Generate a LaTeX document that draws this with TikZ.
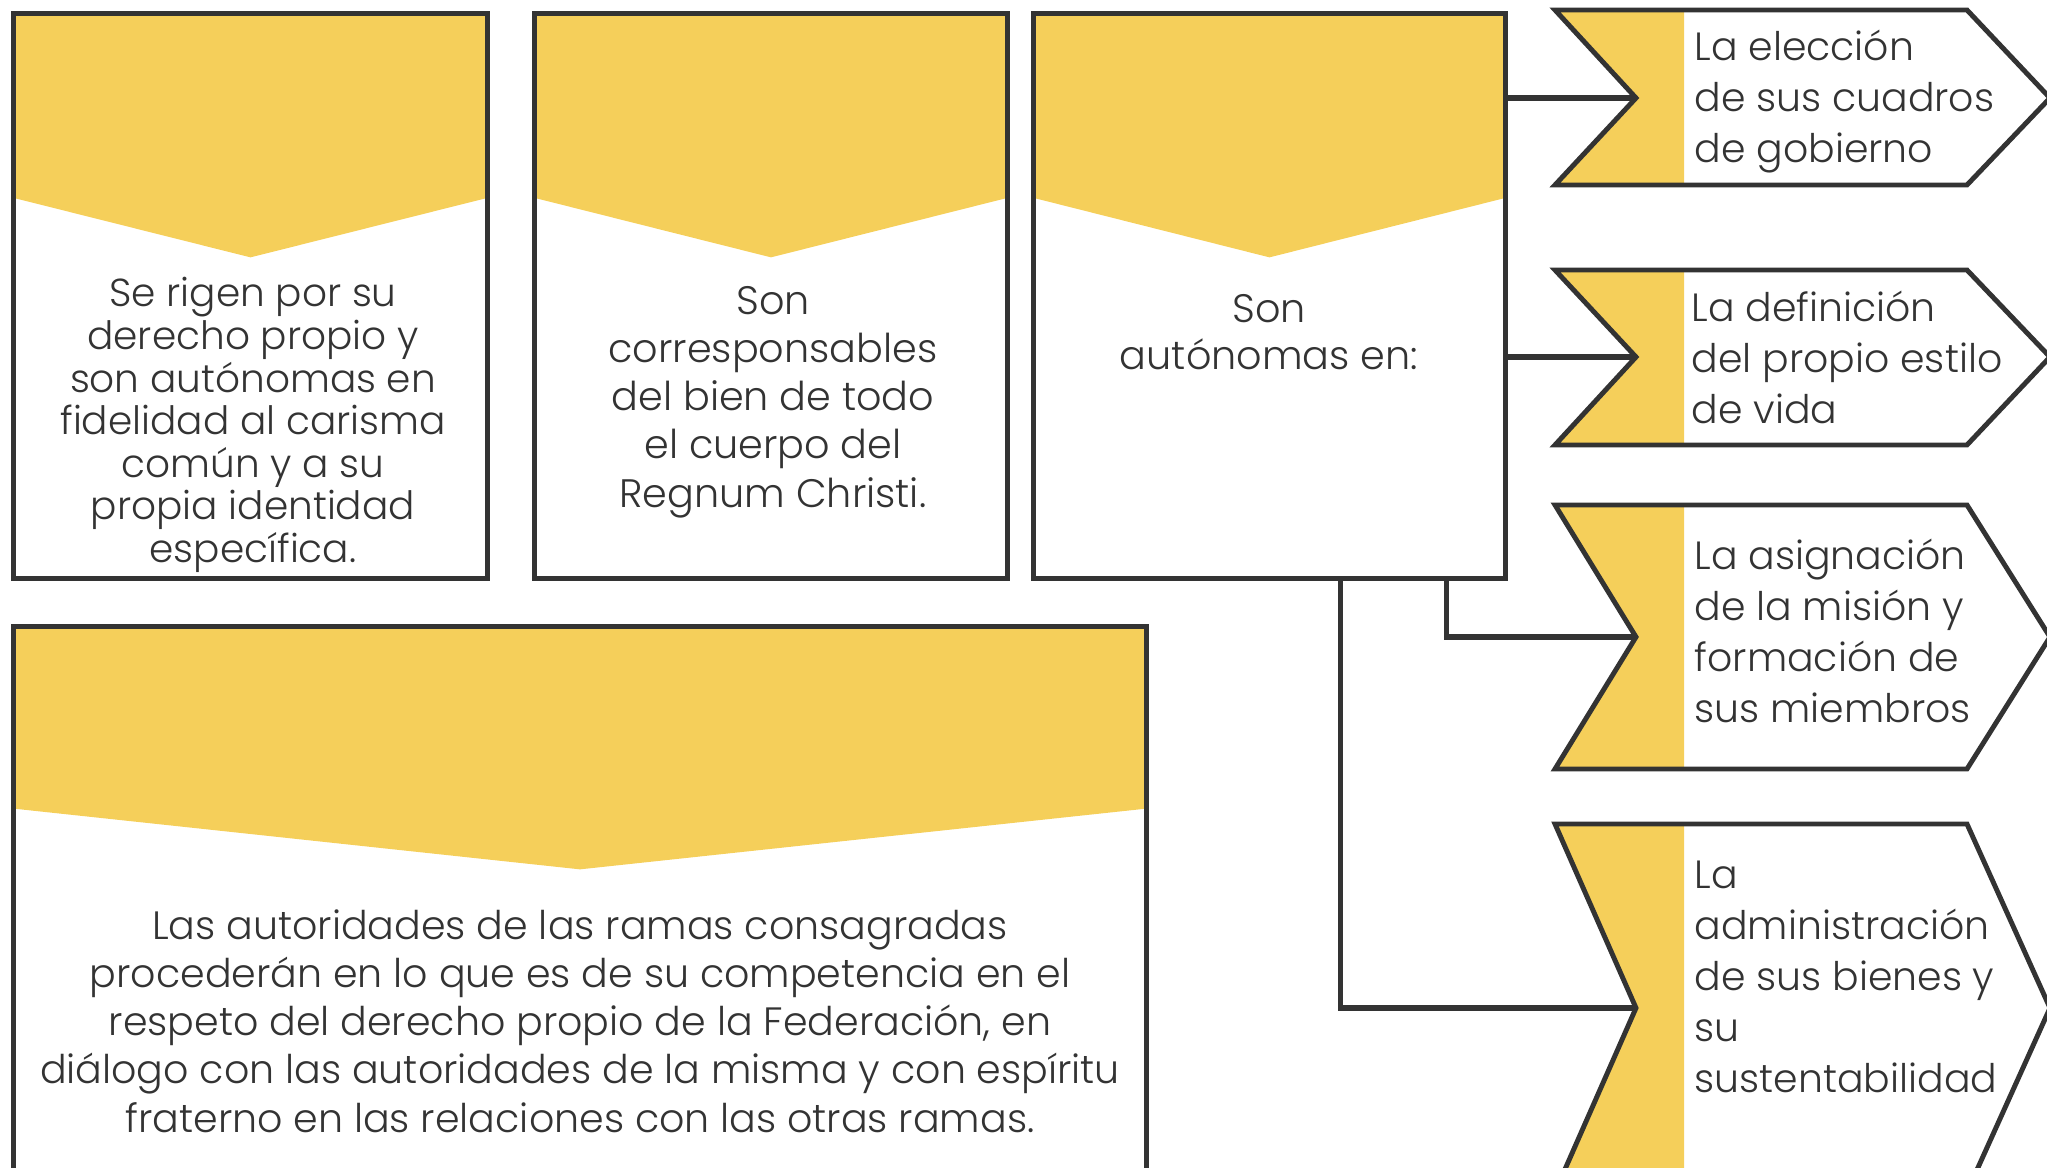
\documentclass[tikz,border=0pt]{standalone}
\usepackage{fontspec}
\setmainfont{Poppins}[UprightFont={* Light}]
\usetikzlibrary{positioning,calc,backgrounds}
\definecolor{bandyellow}{HTML}{F5CF5A}
\definecolor{linegray}{HTML}{333333}
\tikzset{
    % boxes with a yellow band on top
    tbox/.style={
           rectangle,
           draw=linegray,
           line width=1.4pt,
           inner sep=0pt},
    % text in the boxes
    btext/.style={
           text=linegray,
           align=center,
           font=\fontsize{11.1}{12.1}\selectfont},
    % text in the chevrons
    ctext/.style={
           text=linegray,
           align=left,
           anchor=west,
           inner sep=0pt,
           font=\fontsize{11.2}{14.5}\selectfont},
    chev/.style={
           draw=linegray,
           line width=1.4pt,
           line join=miter},
    band/.style={fill=bandyellow},
    % connector style
    conn/.style={
           draw=linegray,
           line width=1.5pt}
}

\begin{document}
\begin{tikzpicture}[x=0.01cm, y=-0.01cm]
    \useasboundingbox (0,0) rectangle (2047,1168);
    \clip (0,0) rectangle (2047,1168);

    % BOXES
    \node[tbox, minimum width=4.73cm, minimum height=5.64cm] at (250.5,296) (box1) {};
    \node[tbox, minimum width=4.72cm, minimum height=5.64cm] at (771,296) (box2) {};
    \node[tbox, minimum width=4.71cm, minimum height=5.64cm] at (1269.5,296) (box3) {};
    \node[tbox, minimum width=11.32cm, minimum height=5.73cm] at (580,913.5) (box4) {};

    \begin{scope}[on background layer]
        \foreach \b in {box1,box2,box3} {
            \fill[band] (\b.north west) -- (\b.north east) -- ($(\b.north east)+(0,186)$)
                -- ($(\b.north)+(0,246)$) -- ($(\b.north west)+(0,186)$) -- cycle;
        }
        \fill[band] (box4.north west) -- (box4.north east) -- ($(box4.north east)+(0,184)$)
            -- ($(box4.north)+(0,245)$) -- ($(box4.north west)+(0,184)$) -- cycle;
    \end{scope}

    \node[btext] at (253,425) (txt1) {Se rigen por su\\derecho propio y\\son autónomas en\\fidelidad al carisma\\común y a su\\propia identidad\\específica.};
    \node[btext, font=\fontsize{11.3}{13.7}\selectfont] at (773,402) (txt2) {Son\\corresponsables\\del bien de todo\\el cuerpo del\\Regnum Christi.};
    \node[btext, font=\fontsize{11.3}{13.4}\selectfont] at (1269,332) (txt3) {Son\\autónomas en:};
    \node[btext, font=\fontsize{11.25}{13.7}\selectfont] at (580,1021) (txt4) {Las autoridades de las ramas consagradas\\procederán en lo que es de su competencia en el\\respeto del derecho propio de la Federación, en\\diálogo con las autoridades de la misma y con espíritu\\fraterno en las relaciones con las otras ramas.};

    % CHEVRONS
    \foreach \n/\t/\m/\b in {1/10/98/185, 2/270/357/445, 3/505/637/769, 4/824/1008/1192} {
        \fill[band] (1555,\t) -- (1684,\t) -- (1684,\b) -- (1555,\b) -- (1636,\m) -- cycle;
        \draw[chev] (1555,\t) -- (1967,\t) -- (2050,\m) -- (1967,\b) -- (1555,\b) -- (1636,\m) -- cycle;
        \coordinate (notch\n) at (1636,\m);
    }

    \node[ctext] at (1694,102) (ch1) {La elección\\de sus cuadros\\de gobierno};
    \node[ctext] at (1691,357) (ch2) {La definición\\del propio estilo\\de vida};
    \node[ctext] at (1694,631) (ch3) {La asignación\\de la misión y\\formación de\\sus miembros};
    \node[ctext] at (1694,977) (ch4) {La\\administración\\de sus bienes y\\su\\sustentabilidad};

    % CONNECTORS
    \draw[conn] (box3.east |- notch1) -- (notch1);
    \draw[conn] (box3.east |- notch2) -- (notch2);
    \draw[conn] ($(box3.south west)+(415,0)$) |- (notch3);
    \draw[conn] ($(box3.south west)+(309,0)$) |- (notch4);

\end{tikzpicture}
\end{document}
